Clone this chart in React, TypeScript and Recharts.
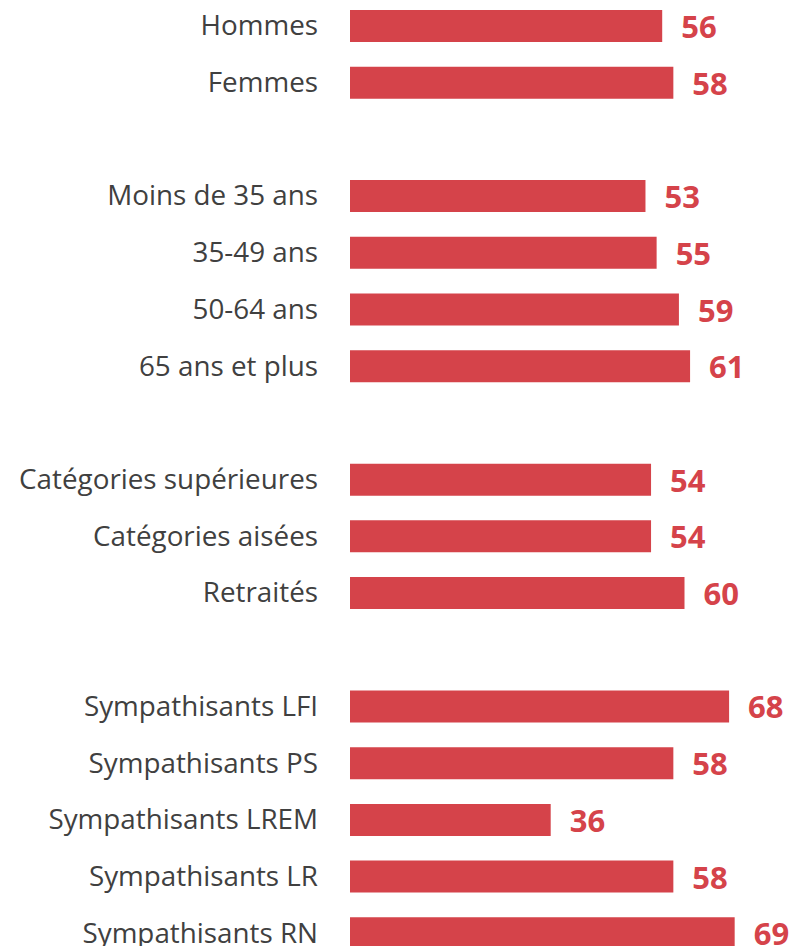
import React from "react";
import { BarChart, Bar, XAxis, YAxis, LabelList } from "recharts";

// empty strings are the blank rows between the groups
const categories = [
  "Hommes",
  "Femmes",
  "",
  "Moins de 35 ans",
  "35-49 ans",
  "50-64 ans",
  "65 ans et plus",
  "",
  "Catégories supérieures",
  "Catégories aisées",
  "Retraités",
  "",
  "Sympathisants LFI",
  "Sympathisants PS",
  "Sympathisants LREM",
  "Sympathisants LR",
  "Sympathisants RN",
];

const values: (number | null)[] = [
  56, 58, null, 53, 55, 59, 61, null, 54, 54, 60, null, 68, 58, 36, 58, 69,
];

const BAR_COLOR = "#D5434A";
const TEXT_COLOR = "#404040";
const FONT = "'Open Sans', 'Noto Sans', sans-serif";

const data = categories.map((name, i) => ({ id: i, name, value: values[i] }));

const CategoryTick = (props: any) => {
  const label = categories[props.payload.value];
  if (!label) return null;
  return (
    <text
      x={318}
      y={props.y + 9}
      textAnchor="end"
      fill={TEXT_COLOR}
      fontFamily={FONT}
      fontSize={27.8}
    >
      {label}
    </text>
  );
};

const ValueLabel = (props: any) => {
  const { x, y, width, height, value } = props;
  if (value == null) return null;
  return (
    <text
      x={x + width + 19}
      y={y + height / 2 + 12}
      fill={BAR_COLOR}
      fontFamily={FONT}
      fontWeight="bold"
      fontSize={31}
    >
      {value}
    </text>
  );
};

const App: React.FC = () => {
  return (
    <div
      style={{
        position: "absolute",
        top: 0,
        left: 0,
        width: 793,
        height: 946,
        overflow: "hidden",
        background: "#fff",
      }}
    >
      <div style={{ position: "absolute", top: -2.35, left: 0 }}>
        <BarChart
          width={796}
          height={964}
          data={data}
          layout="vertical"
          margin={{ top: 0, right: 0, bottom: 0, left: 0 }}
        >
          <XAxis type="number" domain={[0, 80]} hide />
          <YAxis
            type="category"
            dataKey="id"
            width={350}
            axisLine={false}
            tickLine={false}
            tick={<CategoryTick />}
            interval={0}
          />
          <Bar dataKey="value" fill={BAR_COLOR} barSize={32} isAnimationActive={false}>
            <LabelList dataKey="value" content={<ValueLabel />} />
          </Bar>
        </BarChart>
      </div>
    </div>
  );
};

export default App;
